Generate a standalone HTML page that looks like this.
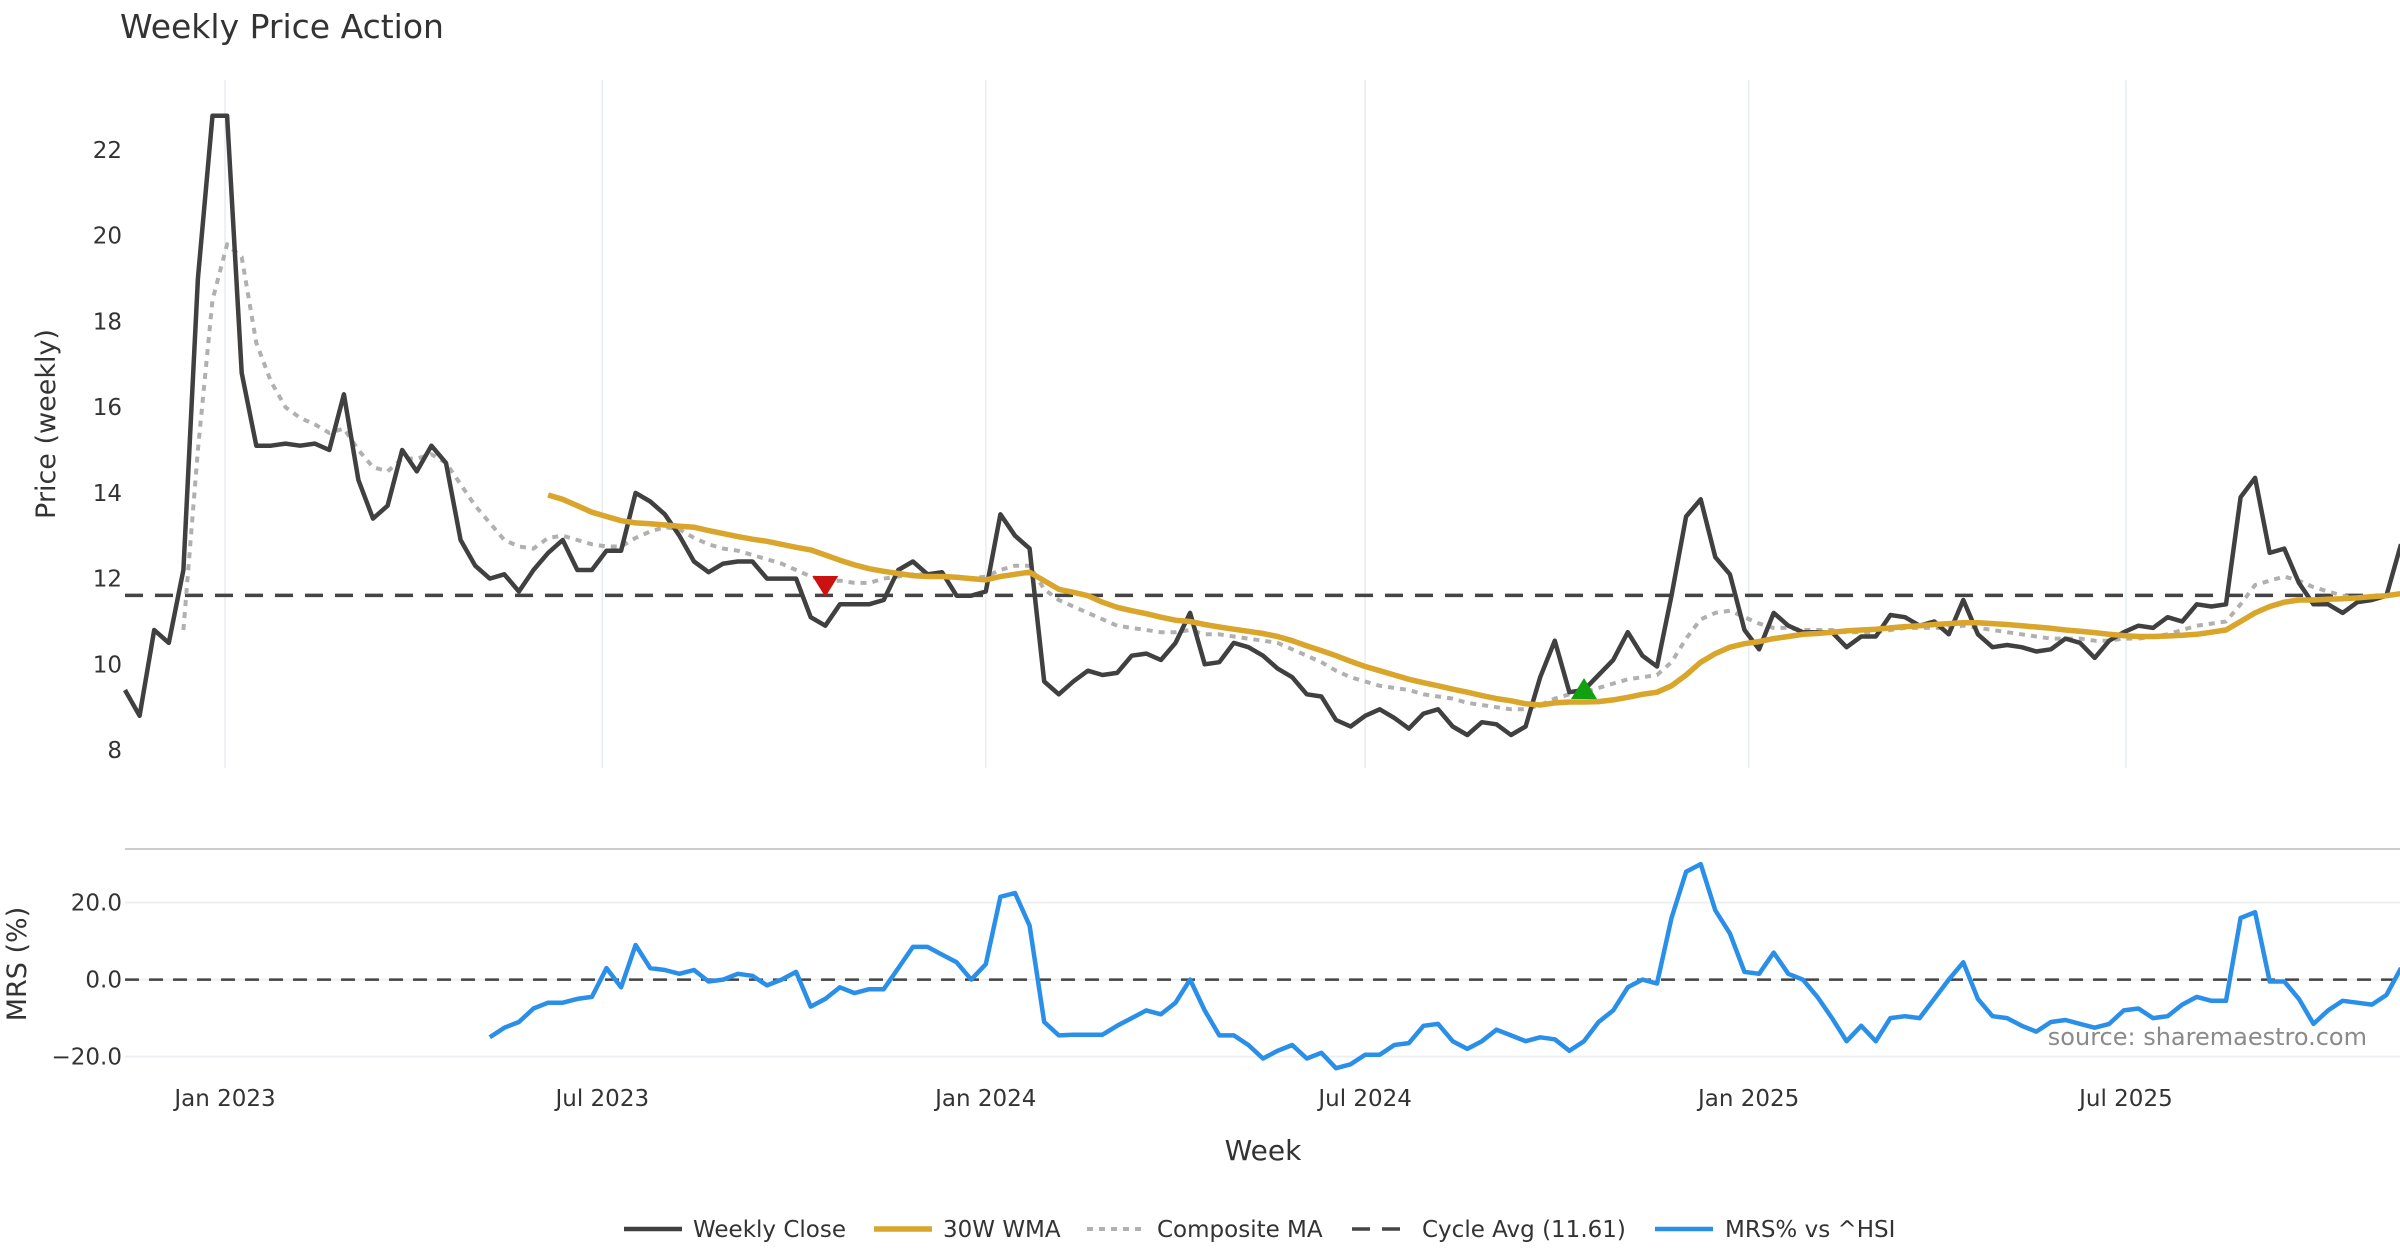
<!DOCTYPE html>
<html><head><meta charset="utf-8">
<style>
html,body{margin:0;padding:0;background:#fff;}
svg{display:block;font-family:"DejaVu Sans","Liberation Sans",sans-serif;}
</style></head>
<body>
<svg id="chart" width="2400" height="1260" viewBox="0 0 2400 1260"></svg>
<script>
const closeVals=[9.4,8.8,10.8,10.5,12.2,19,22.8,22.8,16.8,15.1,
15.1,15.15,15.1,15.15,15.0,16.3,14.3,13.4,13.7,15.0,
14.5,15.1,14.7,12.9,12.3,12.0,12.1,11.7,12.2,12.6,
12.9,12.2,12.2,12.65,12.65,14.0,13.8,13.5,13.0,12.4,
12.15,12.35,12.4,12.4,12.0,12.0,12.0,11.1,10.9,11.4,
11.4,11.4,11.5,12.2,12.4,12.1,12.15,11.6,11.6,11.7,
13.5,13.0,12.7,9.6,9.3,9.6,9.85,9.75,9.8,10.2,
10.25,10.1,10.5,11.2,10.0,10.05,10.5,10.4,10.2,9.9,
9.7,9.3,9.25,8.7,8.55,8.8,8.95,8.75,8.5,8.85,
8.95,8.55,8.35,8.65,8.6,8.35,8.55,9.7,10.55,9.35,
9.4,9.75,10.1,10.75,10.2,9.95,11.6,13.45,13.85,12.5,
12.1,10.8,10.35,11.2,10.9,10.75,10.75,10.75,10.4,10.65,
10.65,11.15,11.1,10.9,11.0,10.7,11.5,10.7,10.4,10.45,
10.4,10.3,10.35,10.6,10.5,10.15,10.55,10.75,10.9,10.85,
11.1,11.0,11.4,11.35,11.4,13.9,14.35,12.6,12.7,11.9,
11.4,11.4,11.2,11.45,11.5,11.6,12.8];
const wmaVals=[13.95,13.85,13.7,13.55,13.45,13.35,13.3,13.28,13.25,13.22,13.2,13.12,13.05,12.98,12.92,12.87,12.8,12.73,12.67,12.55,12.43,12.32,12.23,12.17,12.12,12.07,12.05,12.05,12.03,12.0,11.97,12.05,12.1,12.15,11.95,11.75,11.68,11.6,11.45,11.33,11.25,11.18,11.1,11.03,11.0,10.93,10.87,10.82,10.77,10.72,10.65,10.55,10.43,10.32,10.2,10.07,9.95,9.85,9.75,9.65,9.57,9.5,9.42,9.35,9.27,9.2,9.15,9.08,9.05,9.1,9.12,9.12,9.13,9.17,9.23,9.3,9.35,9.5,9.75,10.05,10.25,10.4,10.48,10.53,10.6,10.65,10.7,10.72,10.75,10.78,10.8,10.82,10.85,10.88,10.9,10.93,10.95,10.97,10.97,10.95,10.93,10.9,10.87,10.84,10.8,10.77,10.74,10.7,10.67,10.65,10.65,10.66,10.68,10.7,10.75,10.8,11.0,11.2,11.35,11.45,11.5,11.5,11.52,11.53,11.55,11.58,11.6,11.65];
const compVals=[10.8,15,18.5,19.8,19.5,17.5,16.6,16.0,15.75,15.6,15.4,15.5,15.0,14.6,14.5,14.8,14.8,14.9,14.7,14.2,13.7,13.3,12.9,12.75,12.7,12.95,13.0,12.9,12.8,12.75,12.75,12.95,13.1,13.2,13.15,12.95,12.8,12.7,12.65,12.55,12.45,12.35,12.2,12.05,11.95,11.95,11.9,11.9,12.0,12.05,12.1,12.1,12.05,12.05,12.0,12.05,12.2,12.3,12.3,11.75,11.5,11.35,11.2,11.05,10.9,10.85,10.8,10.75,10.75,10.8,10.7,10.7,10.65,10.6,10.55,10.5,10.35,10.2,10.05,9.85,9.7,9.6,9.5,9.45,9.4,9.3,9.25,9.2,9.1,9.05,9.0,8.95,8.95,9.05,9.2,9.3,9.35,9.45,9.55,9.65,9.7,9.75,10.05,10.6,11.05,11.2,11.25,11.1,10.95,10.85,10.85,10.8,10.8,10.8,10.75,10.75,10.75,10.8,10.85,10.85,10.85,10.85,10.9,10.85,10.8,10.75,10.7,10.65,10.6,10.6,10.6,10.55,10.55,10.6,10.6,10.65,10.7,10.8,10.9,10.95,11.0,11.4,11.85,11.95,12.05,11.95,11.8,11.7,11.6,11.55,11.55,11.6,11.65];
const mrsVals=[-15,-12.5,-11,-7.5,-6,-6,-5,-4.5,3,-2,9,3,2.5,1.5,2.5,-0.5,0,1.5,1,-1.5,0,2,-7,-5,-2,-3.5,-2.5,-2.5,3,8.5,8.5,6.5,4.5,0,4,21.5,22.5,14,-11,-14.5,-14.3,-14.3,-14.3,-12,-10,-8,-9,-6,0,-8,-14.5,-14.5,-17,-20.5,-18.5,-17,-20.5,-19,-23,-22,-19.5,-19.5,-17,-16.5,-12,-11.5,-16,-18,-16,-13,-14.5,-16,-15,-15.5,-18.5,-16,-11,-8,-2,0,-1,16,28,30,18,12,2,1.5,7,1.5,0,-4.5,-10,-16,-12,-16,-10,-9.5,-10,-5,0,4.5,-5,-9.5,-10,-12,-13.5,-11,-10.5,-11.5,-12.5,-11.5,-8,-7.5,-10,-9.5,-6.5,-4.5,-5.5,-5.5,16,17.5,-0.5,-0.5,-5,-11.5,-8,-5.5,-6,-6.5,-4,3];
const cycleAvg=11.61;
const priceTicks=[8,10,12,14,16,18,20,22];
const mrsTicks=[-20,0,20];
const dateTicks=["2023-01-01","2023-07-01","2024-01-01","2024-07-01","2025-01-01","2025-07-01"];
const dateLabels=["Jan 2023","Jul 2023","Jan 2024","Jul 2024","Jan 2025","Jul 2025"];
const sellSignal=[48,11.85];
const buySignal=[100,9.4];

const NS="http://www.w3.org/2000/svg";
const svg=document.getElementById('chart');
const startDate=new Date("2022-11-14");
const X0=125, STEP=14.59;
const xi=i=>X0+i*STEP;
const xd=d=>X0+((new Date(d)-startDate)/86400000/7)*STEP;
const yP=v=>150+(22-v)*42.86;
const yM=v=>979.6-v*3.85;
function el(tag,attrs,parent){const e=document.createElementNS(NS,tag);for(const k in attrs)e.setAttribute(k,attrs[k]);(parent||svg).appendChild(e);return e;}
function txt(s,attrs){const t=el('text',attrs);t.textContent=s;return t;}
function poly(vals,offset,yf,attrs){let p=vals.map((v,k)=>xi(offset+k).toFixed(1)+','+yf(v).toFixed(1)).join(' ');return el('polyline',Object.assign({points:p,fill:'none','stroke-linejoin':'round'},attrs));}

dateTicks.forEach((d,k)=>{
  const g=el('line',{x1:xd(d),x2:xd(d),y1:80,y2:768,stroke:'#e6edf1','stroke-width':1.5});
  
  
  const t=txt(dateLabels[k],{x:xd(d),y:1106,'text-anchor':'middle','font-size':23,fill:'#333'});
  
  
});
priceTicks.forEach(v=>{
  const t=txt(String(v),{x:122,y:yP(v)+8,'text-anchor':'end','font-size':23,fill:'#333'});
  
  
});
mrsTicks.forEach(v=>{
  const g=el('line',{x1:125,x2:2400,y1:yM(v),y2:yM(v),stroke:'#edf0f3','stroke-width':2});
  
  
  const lab=(v<0?'\u2212':'')+Math.abs(v).toFixed(1);
  const t=txt(lab,{x:122,y:yM(v)+8,'text-anchor':'end','font-size':23,fill:'#333'});
  
  
});
const sep=el('line',{x1:125,x2:2400,y1:849,y2:849,stroke:'#cccccc','stroke-width':2});



const ca=el('line',{x1:125,x2:2400,y1:yP(cycleAvg),y2:yP(cycleAvg),stroke:'#444','stroke-width':3.5,'stroke-dasharray':'18,12'});


const cp=poly(compVals,closeVals.length-compVals.length,yP,{stroke:'#b0b0b0','stroke-width':4,'stroke-dasharray':'6,6'});


const cl=poly(closeVals,0,yP,{stroke:'#404040','stroke-width':4.5});


const wm=poly(wmaVals,closeVals.length-wmaVals.length,yP,{stroke:'#d9a52a','stroke-width':5.5});


{const x=xi(sellSignal[0]),y=yP(sellSignal[1]);
 const s=el('polygon',{points:`${x-13},${y-9} ${x+13},${y-9} ${x},${y+12}`,fill:'#cc1111'});
 
 }
{const x=xi(buySignal[0]),y=yP(buySignal[1]);
 const s=el('polygon',{points:`${x-13},${y+9} ${x+13},${y+9} ${x},${y-12}`,fill:'#10a010'});
 
 }

const zl=el('line',{x1:125,x2:2400,y1:yM(0),y2:yM(0),stroke:'#444','stroke-width':2.5,'stroke-dasharray':'14,10'});


const mr=poly(mrsVals,closeVals.length-mrsVals.length,yM,{stroke:'#2a8fe8','stroke-width':4.5});


</script>
<div style="position:absolute;left:0;top:0;width:2400px;height:1260px;pointer-events:none">
<svg width="2400" height="1260" style="position:absolute;left:0;top:0;font-family:'DejaVu Sans','Liberation Sans',sans-serif">
<text x="120" y="38" font-size="33" fill="#333">Weekly Price Action</text>
<text transform="translate(55,424) rotate(-90)" text-anchor="middle" font-size="27" fill="#333">Price (weekly)</text>
<text transform="translate(26,964) rotate(-90)" text-anchor="middle" font-size="27" fill="#333">MRS (%)</text>
<text x="1263" y="1160" text-anchor="middle" font-size="28" fill="#333">Week</text>
<text x="2367" y="1045" text-anchor="end" font-size="24" fill="#8a8a8a">source: sharemaestro.com</text>
<g font-size="23" fill="#333">
 <g><line x1="624" x2="682" y1="1229" y2="1229" stroke="#404040" stroke-width="4.5"/><text x="693" y="1237">Weekly Close</text></g>
 <g><line x1="874" x2="932" y1="1229" y2="1229" stroke="#d9a52a" stroke-width="5.5"/><text x="943" y="1237">30W WMA</text></g>
 <g><line x1="1087" x2="1145" y1="1229" y2="1229" stroke="#b0b0b0" stroke-width="4" stroke-dasharray="6,6"/><text x="1157" y="1237">Composite MA</text></g>
 <g><line x1="1352" x2="1410" y1="1229" y2="1229" stroke="#444" stroke-width="3.5" stroke-dasharray="18,12"/><text x="1422" y="1237">Cycle Avg (11.61)</text></g>
 <g><line x1="1655" x2="1713" y1="1229" y2="1229" stroke="#2a8fe8" stroke-width="4.5"/><text x="1725" y="1237">MRS% vs ^HSI</text></g>
</g>
</svg>
</div>
</body></html>
